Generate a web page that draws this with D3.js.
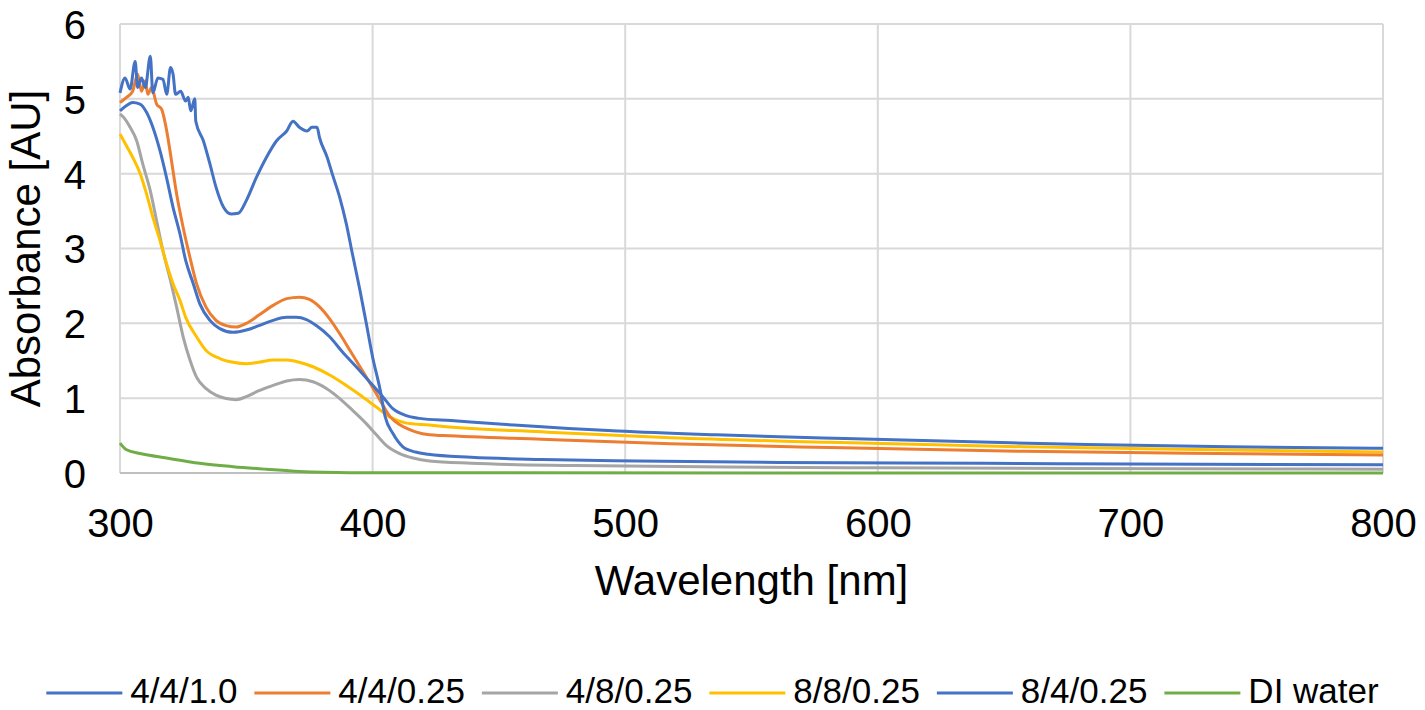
<!DOCTYPE html>
<html>
<head>
<meta charset="utf-8">
<script src="https://cdn.jsdelivr.net/npm/d3@7"></script>
<style>
  html, body { margin: 0; padding: 0; background: #fff; }
  svg text { font-family: "Liberation Sans", Arial, sans-serif; fill: #000; }
</style>
</head>
<body>
<svg id="chart" width="1425" height="710"></svg>
<script>
// series names and colours (legend order)
var seriesNames = ['4/4/1.0', '4/4/0.25', '4/8/0.25', '8/8/0.25', '8/4/0.25', 'DI water'];
var seriesColors = ['#4472C4', '#ED7D31', '#A5A5A5', '#FFC000', '#4472C4', '#70AD47'];

var xTicks = [300, 400, 500, 600, 700, 800];
var yTicks = [0, 1, 2, 3, 4, 5, 6];

// values: wavelength [nm] / absorbance [AU]
var wl_441_0 = [300,302,304,306,307,308.5,310,312,313,315,317,318.5,320,321,322,324,326,327,328,329.6,330,333,335.6,338,341,344,346.8,350,354,358,362,366,368.5,371,374,376,378,379,382,384,387,389.6,392,395,397.5,400,403,405,408,412,417,422,439,467,505,561,642,700,800];
var ab_441_0 = [5.08,5.28,5.13,5.5,5.15,5.28,5.15,5.57,5.08,5.28,5.26,5.06,5.42,5.33,5.06,5.1,4.97,5.02,4.84,5.0,4.7,4.44,4.13,3.82,3.55,3.46,3.47,3.64,3.95,4.22,4.44,4.57,4.7,4.62,4.57,4.62,4.62,4.48,4.22,4.0,3.68,3.33,2.93,2.44,2.0,1.55,1.11,0.75,0.53,0.35,0.28,0.25,0.21,0.18,0.16,0.14,0.13,0.12,0.11];

var wl_4425 = [300,302.6,305,307,308.5,310,311,312.5,314.5,316.5,318.5,320.4,322.4,325,327.7,330.3,334,338,342,346,350,355,360.6,366,371,375,379,383,387,391,395,399,403,407,411,417,422.5,428,467,518,581,658,734,800];
var ab_4425 = [4.95,5.02,5.1,5.33,5.1,5.24,5.06,5.15,4.93,4.86,4.57,4.17,3.73,3.28,2.88,2.53,2.22,2.04,1.97,1.95,2.0,2.11,2.24,2.33,2.35,2.32,2.22,2.06,1.86,1.64,1.42,1.2,0.97,0.75,0.64,0.55,0.51,0.5,0.45,0.39,0.34,0.29,0.26,0.24];

var wl_4825 = [300,302,304,306.6,309,312,314.5,317,320,322.4,325,327.7,330.3,334,338,342,346,350,355,360.6,366,371,376.4,381.7,387,392,397.5,401.5,405.4,410.7,416,422.5,439,480,540,600,680,800];
var ab_4825 = [4.8,4.73,4.62,4.44,4.13,3.77,3.37,2.97,2.57,2.22,1.82,1.51,1.28,1.13,1.04,0.995,0.98,1.02,1.1,1.17,1.23,1.25,1.22,1.13,0.995,0.84,0.66,0.51,0.37,0.26,0.2,0.16,0.13,0.1,0.08,0.07,0.06,0.05];

var wl_8825 = [300,302.6,305,308,310.5,313,315.8,318.4,321,323.7,326,330.3,334,339.5,344.8,350,355,360.6,366,371,376.4,383,389.6,396,401.5,406.7,413,422.5,428,467,518,581,658,734,800];
var ab_8825 = [4.53,4.37,4.22,4.0,3.73,3.42,3.11,2.8,2.53,2.31,2.08,1.82,1.64,1.53,1.48,1.46,1.48,1.51,1.51,1.48,1.42,1.31,1.17,1.02,0.88,0.75,0.67,0.64,0.62,0.55,0.47,0.41,0.35,0.31,0.28];

var wl_8425 = [300,302.6,305,307.9,310.5,313,315.8,318.4,321,323.7,326,329,331.6,335.6,339.5,344.8,350,355,360.6,366,369.8,373.8,377.7,383,388,393.5,398.8,404,408,413,418.6,431,456,497,536,587,645,683,739,800];
var ab_8425 = [4.84,4.91,4.95,4.93,4.82,4.62,4.31,3.95,3.55,3.2,2.84,2.53,2.26,2.04,1.93,1.88,1.91,1.97,2.04,2.08,2.08,2.05,1.97,1.82,1.62,1.42,1.22,1.02,0.86,0.77,0.73,0.7,0.64,0.56,0.51,0.46,0.41,0.38,0.35,0.33];

var wl_di = [300,302.6,308,318.4,331.6,344.8,358,371,391,450,800];
var ab_di = [0.40,0.31,0.26,0.2,0.13,0.085,0.05,0.02,0.005,0.002,0.0];

var seriesWl = [wl_441_0, wl_4425, wl_4825, wl_8825, wl_8425, wl_di];
var seriesAb = [ab_441_0, ab_4425, ab_4825, ab_8825, ab_8425, ab_di];

// ---------------------------------------------------------------
var svg = d3.select('#chart');
var plotL = 120, plotR = 1383, plotT = 24, plotB = 473;

var x = d3.scaleLinear().domain([300, 800]).range([plotL, plotR]);
var y = d3.scaleLinear().domain([0, 6]).range([plotB, plotT]);

// grid
var grid = svg.append('g').attr('class', 'grid');
grid.selectAll('line.h')
    .data(yTicks.filter(d => d > 0))
  .enter().append('line')
    .attr('x1', plotL).attr('x2', plotR)
    .attr('y1', d => y(d)).attr('y2', d => y(d))
    .attr('stroke', '#d9d9d9').attr('stroke-width', 2);
grid.selectAll('line.v')
    .data(xTicks)
  .enter().append('line')
    .attr('x1', d => x(d)).attr('x2', d => x(d))
    .attr('y1', plotT).attr('y2', plotB)
    .attr('stroke', '#d9d9d9').attr('stroke-width', 2);
// bottom axis line
grid.append('line')
    .attr('x1', plotL).attr('x2', plotR)
    .attr('y1', y(0)).attr('y2', y(0))
    .attr('stroke', '#bfbfbf').attr('stroke-width', 2);

// axes (labels only)
var xAxis = svg.append('g')
    .attr('transform', 'translate(0,' + plotB + ')')
    .call(d3.axisBottom(x).tickValues(xTicks).tickSize(0).tickFormat(d3.format('d')));
var yAxis = svg.append('g')
    .attr('transform', 'translate(' + plotL + ',0)')
    .call(d3.axisLeft(y).tickValues(yTicks).tickSize(0).tickPadding(34).tickFormat(d3.format('d')));
[xAxis, yAxis].forEach(a => {
    a.select('.domain').remove();
    a.selectAll('text')
        .attr('font-family', '"Liberation Sans", Arial, sans-serif')
        .attr('font-size', 40)
        .attr('fill', '#000');
});
yAxis.selectAll('text').attr('dy', '0.36em');
xAxis.selectAll('text').attr('dy', 0).attr('y', 64);

// axis titles
svg.append('text')
    .attr('x', (plotL + plotR) / 2).attr('y', 595)
    .attr('text-anchor', 'middle')
    .attr('font-size', 42)
    .text('Wavelength [nm]');
svg.append('text')
    .attr('transform', 'translate(40,' + ((plotT + plotB) / 2) + ') rotate(-90)')
    .attr('text-anchor', 'middle')
    .attr('font-size', 42)
    .text('Absorbance [AU]');

// lines
var line = d3.line()
    .x(d => x(d[0]))
    .y(d => y(d[1]))
    .curve(d3.curveMonotoneX);

// DI water first, then the rest so the first series sits on top
var order = [5, 2, 3, 1, 4, 0];
svg.append('g').attr('class', 'series')
    .selectAll('path')
    .data(order)
  .enter().append('path')
    .attr('d', i => line(d3.zip(seriesWl[i], seriesAb[i])))
    .attr('fill', 'none')
    .attr('stroke', i => seriesColors[i])
    .attr('stroke-width', 3)
    .attr('stroke-linejoin', 'round');

// legend
var legend = svg.append('g').attr('class', 'legend');
var lx = 0;
seriesNames.forEach((name, i) => {
    var g = legend.append('g').attr('transform', 'translate(' + lx + ',0)');
    g.append('line')
        .attr('x1', 0).attr('x2', 76)
        .attr('y1', 693).attr('y2', 693)
        .attr('stroke', seriesColors[i]).attr('stroke-width', 3);
    var t = g.append('text')
        .attr('x', 84).attr('y', 703)
        .attr('font-size', 35)
        .text(name);
    lx += 84 + t.node().getComputedTextLength() + 17;
});
var legendW = lx - 17;
legend.attr('transform', 'translate(' + ((1425 - legendW) / 2) + ',0)');
</script>
</body>
</html>
